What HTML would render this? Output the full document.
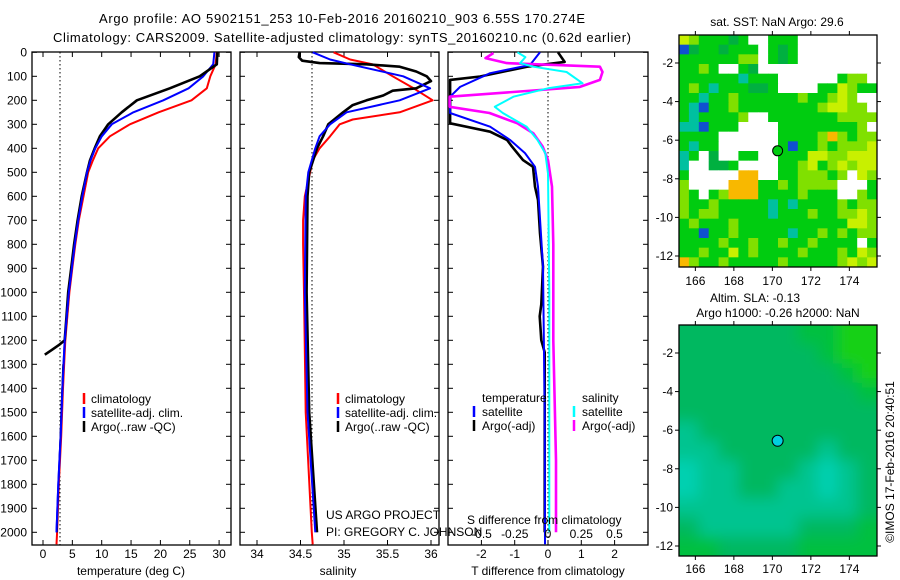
<!DOCTYPE html>
<html><head><meta charset="utf-8">
<style>
html,body{margin:0;padding:0;background:#fff;}
svg{display:block;font-family:"Liberation Sans",sans-serif;font-size:12px;}
</style></head>
<body>
<svg id="fig" width="900" height="580" viewBox="0 0 900 580">
<text x="342" y="23" text-anchor="middle" textLength="486" font-size="13">Argo profile: AO 5902151_253 10-Feb-2016 20160210_903 6.55S 170.274E</text>
<text x="342" y="42" text-anchor="middle" textLength="578" font-size="13">Climatology: CARS2009. Satellite-adjusted climatology: synTS_20160210.nc (0.62d earlier)</text>
</svg>
<script>
// ---------- data ----------
const depthTicks=[0,100,200,300,400,500,600,700,800,900,1000,1100,1200,1300,1400,1500,1600,1700,1800,1900,2000];
const tempTicks=[0,5,10,15,20,25,30];
const salTicks=[34,34.5,35,35.5,36];
const tdiffTicks=[-2,-1,0,1,2];
const sdiffTicks=[-0.5,-0.25,0,0.25,0.5];
const lonTicks=[166,168,170,172,174];
const latTicks=[-2,-4,-6,-8,-10,-12];

const tClimDepth=[0,50,100,150,200,250,300,350,400,450,500,600,700,800,900,1000,1200,1400,1600,1800,2000,2050];
const tClim=[29.6,29.4,28.5,27.9,25.3,19.7,14.8,11.4,9.4,8.5,7.7,6.9,6.1,5.5,5.0,4.5,3.8,3.4,3.1,2.7,2.4,2.3];
const tSatDepth=[0,50,100,150,200,250,300,350,400,450,500,600,700,800,900,1000,1200,1400,1600,1800,2000];
const tSat=[29.2,29.0,27.3,24.8,20.5,15.4,11.7,10.0,8.9,8.1,7.5,6.7,6.0,5.4,4.9,4.4,3.7,3.3,3.0,2.6,2.3];
const tArgoDepth=[0,50,100,150,200,250,300,350,400,450,500,600,700,800,900,1000,1100,1200,1220,1240,1260];
const tArgo=[29.7,29.6,26.7,21.6,16.0,13.4,11.1,9.7,8.8,8.0,7.5,6.6,5.9,5.3,4.8,4.3,4.0,3.7,2.7,1.5,0.3];
const tArgoDeepDepth=[1300,1500,1700,1900,2000];
const tArgoDeep=[3.4,3.1,2.8,2.5,2.4];

const sClimDepth=[0,30,50,100,150,200,250,280,300,350,400,450,500,600,700,800,1000,1500,2000,2050];
const sClim=[34.88,35.07,35.33,35.56,35.80,36.02,35.64,35.10,34.95,34.84,34.72,34.64,34.61,34.55,34.53,34.53,34.54,34.56,34.63,34.64];
const sSatDepth=[0,30,50,100,150,200,250,300,350,400,450,500,600,1000,1500,2000];
const sSat=[34.64,34.84,35.07,35.68,35.99,35.64,35.03,34.84,34.72,34.67,34.63,34.59,34.56,34.55,34.58,34.67];
const sArgoDepth=[0,20,35,45,50,60,80,100,120,150,160,180,200,220,250,300,350,400,500,600,1000,1500,2000];
const sArgo=[34.49,34.48,34.52,34.72,35.26,35.64,35.83,35.95,36.0,35.83,35.56,35.45,35.26,35.10,34.99,34.82,34.76,34.69,34.60,34.58,34.57,34.60,34.69];

const dtSatDepth=[0,53,87,144,185,253,310,365,420,477,560,893,1500,2050];
const dtSat=[-0.24,-0.54,-1.74,-2.64,-2.94,-2.94,-1.74,-1.14,-0.69,-0.39,-0.3,-0.15,-0.1,-0.09];
const dtArgoDepth=[0,40,60,101,115,296,331,365,393,449,477,560,615,754,893,1050,1100,1200,1250,1700,2000];
const dtArgo=[0.3,0.5,-0.63,-2.04,-2.94,-2.94,-1.74,-1.23,-1.08,-0.75,-0.45,-0.39,-0.3,-0.24,-0.15,-0.2,-0.25,-0.2,-0.1,-0.1,-0.1];
const dsSatDepth=[0,20,45,60,82,129,150,185,227,253,310,365,420,505,1000,2000];
const dsSat=[-0.23,-0.17,-0.21,-0.11,0.14,0.26,0,-0.26,-0.4,-0.34,-0.16,-0.08,-0.02,0,0.01,0.01];
const dsArgoDepth=[3,24,45,60,82,115,144,157,185,227,253,296,338,393,449,560,800,1200,1700,2000];
const dsArgo=[-0.41,-0.47,-0.31,0.39,0.41,0.39,0.24,-0.06,-0.74,-0.74,-0.44,-0.23,-0.11,-0.04,0,0.03,0.04,0.04,0.06,0.06];

const sstRows=[
"ylgggGgwwgggwwwwwwww","bGggGgggwgGgwwwwwwww","ggggggllwgGgwwwwwwww","gglgwwgGwwwwwwwwwwww",
"ggggggcgggwwwwwwgllw","glgcgggGGgwwwwggylgg","ggcgglgggggglgglylww","gcbgglgggggggglyyllw",
"gcgggglwwgggggggllll","ccbgggwwwwgggggggglw","ggggwwwwwwgggglolgll","gcggwwwwwwgbgglgllly",
"cgwGwwggwwgggyyllyyy","cwwGGgwwwwgglyglylyy","gwwwwwoowwgglllglwyl","lwwwwooogglgllllwwwg",
"lgwglooogggglgggwwlg","lgglgggggcgcgggglgll","lgllgggggcggglggllyl","glggglgggggggggggyyl",
"ggbgglgggggcgglglgll","gggglgglgglgglggggwg","gglggyglgggglggglgyl","olgglggggglggggglyly"];
const slaRows=["2222221100","2222222100","2222222210","2222222221","2222222222","3222222222",
"3322222322","4332223432","4332233432","3333333332","2333332221","1122221111"];
const argoLon=170.274, argoLat=-6.55;

// ---------- helpers ----------
const NS="http://www.w3.org/2000/svg";
const svg=document.getElementById('fig');
function mk(tag,attrs,parent){const e=document.createElementNS(NS,tag);for(const k in attrs)e.setAttribute(k,attrs[k]);(parent||svg).appendChild(e);return e;}
function txt(x,y,s,anchor,parent){const t=mk('text',{x:x,y:y,'text-anchor':anchor||'start'},parent);t.textContent=s;return t;}
const yD=d=>52.3+0.24*d;
const panelTop=52,panelBot=545;
const xT=v=>43+5.87*v, xS=v=>257+87*(v-34), xdT=v=>548+33.3*v, xdS=v=>548+133*v;

function panel(x0,x1,name){
  const r=mk('rect',{x:x0,y:panelTop,width:x1-x0,height:panelBot-panelTop,fill:'none',stroke:'#000','stroke-width':1.3});
  
  
  depthTicks.forEach(d=>{mk('line',{x1:x0,x2:x0+5,y1:yD(d),y2:yD(d),stroke:'#000'});mk('line',{x1:x1-5,x2:x1,y1:yD(d),y2:yD(d),stroke:'#000'});});
}
function line(depths,vals,xf,color,w,name,dash){
  const pts=depths.map((d,i)=>xf(vals[i]).toFixed(1)+','+yD(d).toFixed(1)).join(' ');
  const p=mk('polyline',{points:pts,fill:'none',stroke:color,'stroke-width':w,'stroke-linejoin':'round'});
  if(dash)p.setAttribute('stroke-dasharray',dash);
  
  
}
function xticks(ticks,xf,labelY,fmt,top){
  ticks.forEach(v=>{const x=xf(v);mk('line',{x1:x,x2:x,y1:panelBot,y2:panelBot-5,stroke:'#000'});
    if(top)mk('line',{x1:x,x2:x,y1:panelTop,y2:panelTop+5,stroke:'#000'});
    if(labelY){const t=txt(x,labelY,fmt?fmt(v):String(v),'middle');}});
}
function vdotted(x){mk('line',{x1:x,x2:x,y1:panelTop,y2:panelBot,stroke:'#000','stroke-dasharray':'1.5,2.5'});}
function legendItem(mx,tx,y,color,label){
  mk('line',{x1:mx,x2:mx,y1:y-10,y2:y+1,stroke:color,'stroke-width':2.5});
  const t=txt(tx,y,label);
}

// depth labels
depthTicks.forEach(d=>{const t=txt(27,yD(d)+4,String(d),'end');});

// ---------- panel 1: temperature ----------
panel(32,231,'temperature-panel');
xticks(tempTicks,xT,558,null,true);
vdotted(60);
line(tClimDepth,tClim,xT,'#ff0000',2,'temperature-climatology-line');
line(tSatDepth,tSat,xT,'#0000ff',2,'temperature-satellite-line');
line(tArgoDepth,tArgo,xT,'#000',2.6,'temperature-argo-line');
line(tArgoDeepDepth,tArgoDeep,xT,'#000',1.5,'temperature-argo-deep-line');
line(tSatDepth.slice(6),tSat.slice(6),xT,'#0000ff',2,'temperature-satellite-deep-line');
{const t=txt(131,575,'temperature (deg C)','middle');}
legendItem(84,91,403,'#ff0000','climatology');
legendItem(84,91,417,'#0000ff','satellite-adj. clim.');
legendItem(84,91,431,'#000','Argo(..raw -QC)');

// ---------- panel 2: salinity ----------
panel(240,439,'salinity-panel');
xticks(salTicks,xS,558,null,true);
vdotted(312);
line(sClimDepth,sClim,xS,'#ff0000',2,'salinity-climatology-line');
line(sArgoDepth,sArgo,xS,'#000',2.6,'salinity-argo-line');
line(sSatDepth,sSat,xS,'#0000ff',2,'salinity-satellite-line');
{const t=txt(338,575,'salinity','middle');}
legendItem(338,345,403,'#ff0000','climatology');
legendItem(338,345,417,'#0000ff','satellite-adj. clim.');
legendItem(338,345,431,'#000','Argo(..raw -QC)');
{const t=txt(326,519,'US ARGO PROJECT');
 const t2=txt(326,536,'PI: GREGORY C. JOHNSON');}

// ---------- panel 3: differences ----------
panel(448,648,'difference-panel');
xticks(tdiffTicks,xdT,558,null,true);
vdotted(548);
line(dtArgoDepth,dtArgo,xdT,'#000',2.6,'tdiff-argo-line');
line(dtSatDepth,dtSat,xdT,'#0000ff',2,'tdiff-satellite-line');
line(dsArgoDepth,dsArgo,xdS,'#ff00ff',2.6,'sdiff-argo-line');
line(dsSatDepth,dsSat,xdS,'#00ffff',2,'sdiff-satellite-line');
sdiffTicks.forEach(v=>{const t=txt(xdS(v)-(v===0?0:0),538,v===0?'0':String(v).replace('-0.','-0.').replace(/^0\./,'0.'),'middle');});
{const t=txt(467,524,'S difference from climatology');}
{const t=txt(548,575,'T difference from climatology','middle');}
{const t=txt(482,402,'temperature');
 const t2=txt(582,402,'salinity');}
legendItem(474,482,416,'#0000ff','satellite');
legendItem(474,482,430,'#000','Argo(-adj)');
legendItem(574,582,416,'#00ffff','satellite');
legendItem(574,582,430,'#ff00ff','Argo(-adj)');

// ---------- maps ----------
function mapFrame(x0,y0,x1,y1,lonLabY,name){
  const lonX=v=>x0+(v-165.15)*19.25;
  const latY=v=>y0+(-0.55-v)*19.3;
  lonTicks.forEach(v=>{const x=lonX(v);mk('line',{x1:x,x2:x,y1:y0,y2:y0-4,stroke:'#000'});mk('line',{x1:x,x2:x,y1:y1,y2:y1+4,stroke:'#000'});
    const t=txt(x,lonLabY,String(v),'middle');});
  latTicks.forEach(v=>{const y=latY(v);mk('line',{x1:x0,x2:x0-4,y1:y,y2:y,stroke:'#000'});mk('line',{x1:x1,x2:x1+4,y1:y,y2:y,stroke:'#000'});
    const t=txt(x0-6,y+4,String(v),'end');});
  return {lonX,latY};
}
const sstColors={w:'#ffffff',g:'#00cc10',G:'#00b040',l:'#80e000',y:'#c8f000',o:'#f8b800',c:'#00c0a0',b:'#1050d0'};
{
  const x0=679,y0=35,x1=877,y1=267;
  const g=mk('g',{});
  
  
  const cw=(x1-x0)/sstRows[0].length, ch=(y1-y0)/sstRows.length;
  sstRows.forEach((row,r)=>{for(let c=0;c<row.length;c++){mk('rect',{x:x0+c*cw,y:y0+r*ch,width:cw+0.4,height:ch+0.4,fill:sstColors[row[c]]},g);}});
  const f=mapFrame(x0,y0,x1,y1,285,'sst-map');
  mk('rect',{x:x0,y:y0,width:x1-x0,height:y1-y0,fill:'none',stroke:'#000','stroke-width':1.3});
  const m=mk('circle',{cx:f.lonX(argoLon),cy:f.latY(argoLat),r:5,fill:'#00cc10',stroke:'#000'});
  
  
  const t=txt(777,26,'sat. SST: NaN Argo: 29.6','middle');
}
const slaColors=['#18d018','#00c040','#00b860','#00c490','#00d0b0'];
{
  const x0=679,y0=325,x1=877,y1=556;
  const defs=mk('defs',{});
  const cp=mk('clipPath',{id:'slaclip'},defs);mk('rect',{x:x0,y:y0,width:x1-x0,height:y1-y0},cp);
  const fl=mk('filter',{id:'blur',x:'-10%',y:'-10%',width:'120%',height:'120%'},defs);mk('feGaussianBlur',{stdDeviation:7},fl);
  const outer=mk('g',{'clip-path':'url(#slaclip)'});
  
  
  mk('rect',{x:x0,y:y0,width:x1-x0,height:y1-y0,fill:'#00b860'},outer);
  const g=mk('g',{filter:'url(#blur)'},outer);
  const cw=(x1-x0)/slaRows[0].length, ch=(y1-y0)/slaRows.length;
  slaRows.forEach((row,r)=>{for(let c=0;c<row.length;c++){mk('rect',{x:x0+c*cw-(c===0?15:0),y:y0+r*ch-(r===0?15:0),width:cw+(c===0?15:0)+(c===row.length-1?15:0)+0.5,height:ch+(r===0?15:0)+(r===slaRows.length-1?15:0)+0.5,fill:slaColors[+row[c]]},g);}});
  const f=mapFrame(x0,y0,x1,y1,573,'sla-map');
  mk('rect',{x:x0,y:y0,width:x1-x0,height:y1-y0,fill:'none',stroke:'#000','stroke-width':1.3});
  const m=mk('circle',{cx:f.lonX(argoLon),cy:f.latY(argoLat),r:5.5,fill:'#00d0e0',stroke:'#000'});
  
  
  const t=txt(755,302,'Altim. SLA: -0.13','middle');
  const t2=txt(778,317,'Argo h1000: -0.26 h2000: NaN','middle');
}
{
  const t=mk('text',{x:0,y:0,'text-anchor':'middle',transform:'translate(894,462) rotate(-90)'});
  t.textContent='©IMOS 17-Feb-2016 20:40:51';
  
  
}
</script>
</body></html>
